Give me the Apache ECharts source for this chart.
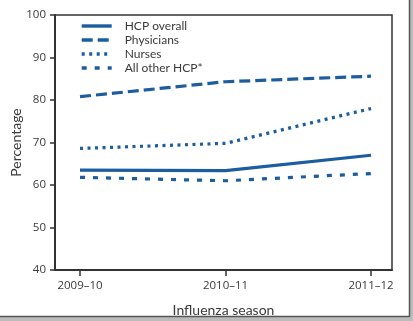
<!DOCTYPE html>
<html>
<head>
<meta charset="utf-8">
<script src="https://cdn.jsdelivr.net/npm/echarts@6/dist/echarts.min.js"></script>
<style>html,body{margin:0;padding:0;background:#fff;}#c{width:413px;height:321px;}</style>
</head>
<body>
<div id="c"></div>
<script>
var seasons = ['2009–10', '2010–11', '2011–12'];
var hcpOverall = [63.5, 63.4, 67.0];
var physicians = [80.8, 84.3, 85.6];
var nurses = [68.6, 69.8, 78.0];
var allOther = [61.8, 61.0, 62.7];
var yTicks = [40, 50, 60, 70, 80, 90, 100];
var seriesNames = ['HCP overall', 'Physicians', 'Nurses', 'All other HCP*'];

var blue = '#1c5d9f';
var txt = '#3a3a3a';
var axisCol = '#333333';
function pts(arr){ return arr.map(function(v,i){ return [i, v]; }); }

var chart = echarts.init(document.getElementById('c'), null, {renderer:'canvas'});
var lineBase = {type:'line', symbol:'none', smooth:false, animation:false, color: blue};
chart.setOption({
  animation:false,
  grid:{left:55, right:21, top:15, bottom:51, outerBoundsMode:'none', containLabel:false,
    show:true, borderColor:axisCol, borderWidth:1.5, backgroundColor:'transparent'},
  legend:{
    orient:'vertical', left:75, top:15, itemWidth:30, itemHeight:10, itemGap:2,
    itemStyle:{opacity:0},
    lineStyle:{width:3.4},
    textStyle:{fontFamily:'Lato', fontSize:12, lineHeight:11.5, color:txt, padding:[0,0,0,8]},
    data:seriesNames
  },
  xAxis:{
    type:'value', min:-0.172, max:2.144,
    name:'Influenza season', nameLocation:'middle', nameGap:33, nameMoveOverlap:false,
    nameTextStyle:{fontFamily:'Lato', fontSize:14, color:txt},
    axisLine:{show:true, onZero:false, lineStyle:{color:axisCol, width:2}},
    axisTick:{show:true, length:6, inside:false, customValues:[0,1,2], lineStyle:{color:axisCol, width:1.5}},
    axisLabel:{customValues:[0,1,2], margin:10, fontFamily:'Open Sans', fontSize:11.5, color:txt,
      formatter:function(v){ return seasons[Math.round(v)]; }},
    splitLine:{show:false}
  },
  yAxis:{
    type:'value', min:40, max:100, interval:10,
    name:'Percentage', nameLocation:'middle', nameGap:32, nameMoveOverlap:false,
    nameTextStyle:{fontFamily:'Lato', fontSize:14, color:txt},
    axisLine:{show:true, onZero:false, lineStyle:{color:axisCol, width:2}},
    axisTick:{show:true, length:5, lineStyle:{color:axisCol, width:1.5}},
    axisLabel:{margin:9, fontFamily:'Open Sans', fontSize:11.5, color:txt,
      formatter:function(v){ return yTicks.indexOf(v) >= 0 ? String(v) : ''; }},
    splitLine:{show:false}
  },
  series:[
    Object.assign({}, lineBase, {name:seriesNames[0], data:pts(hcpOverall), lineStyle:{color:blue, width:3.2, type:'solid'}}),
    Object.assign({}, lineBase, {name:seriesNames[1], data:pts(physicians), lineStyle:{color:blue, width:3.2, type:[11,5]}}),
    Object.assign({}, lineBase, {name:seriesNames[2], data:pts(nurses), lineStyle:{color:blue, width:3.2, type:[3,4.5]}}),
    Object.assign({}, lineBase, {name:seriesNames[3], data:pts(allOther), lineStyle:{color:blue, width:3.2, type:[5,8]}})
  ],
  graphic:[
    {type:'rect', shape:{x:410, y:0, width:3, height:321}, style:{fill:'#bbbbbb'}, silent:true},
    {type:'rect', shape:{x:0, y:317, width:413, height:4}, style:{fill:'#bbbbbb'}, silent:true},
    {type:'line', shape:{x1:409.5, y1:0, x2:409.5, y2:316.5}, style:{stroke:'#555', lineWidth:1.5}, silent:true},
    {type:'line', shape:{x1:0, y1:316.5, x2:410, y2:316.5}, style:{stroke:'#555', lineWidth:1.5}, silent:true}
  ]
});
</script>
</body>
</html>
